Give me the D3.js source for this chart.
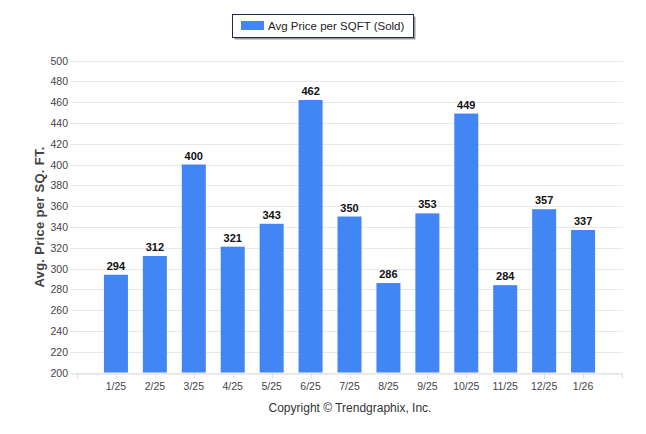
<!DOCTYPE html>
<html><head><meta charset="utf-8">
<script src="https://cdn.jsdelivr.net/npm/d3@7"></script>
<style>body{margin:0;background:#fff;} svg{display:block;}</style>
</head><body>
<svg id="c" width="646" height="434"></svg>
<script>
const categories = ["1/25","2/25","3/25","4/25","5/25","6/25","7/25","8/25","9/25","10/25","11/25","12/25","1/26"];
const values = [294,312,400,321,343,462,350,286,353,449,284,357,337];
const yTicks = [200,220,240,260,280,300,320,340,360,380,400,420,440,460,480,500];
const seriesName = "Avg Price per SQFT (Sold)";
const yTitle = "Avg. Price per SQ. FT.";
const credit = "Copyright \u00A9 Trendgraphix, Inc.";

(function () {
const svg = d3.select("#c");
const pLeft = 77, pRight = 622, pTop = 60.5, pBottom = 372.5;
const x = d3.scaleLinear().domain([0, categories.length + 1]).range([pLeft, pRight]);
const y = d3.scaleLinear().domain([200, 500]).range([pBottom, pTop]);
const font = "'Liberation Sans', Arial, sans-serif";

// gridlines
svg.append("g").selectAll("line").data(yTicks).join("line")
  .attr("x1", 70).attr("x2", pRight + 1)
  .attr("y1", d => Math.round(y(d)) + 0.5).attr("y2", d => Math.round(y(d)) + 0.5)
  .attr("stroke", "#e8e8e8").attr("stroke-width", 1);

// y axis labels
svg.append("g").selectAll("text").data(yTicks).join("text")
  .attr("x", 68).attr("y", d => y(d) + 4)
  .attr("text-anchor", "end").attr("font-family", font).attr("font-size", 10.5)
  .attr("fill", "#444").text(d => d);

// x axis baseline & ticks
svg.append("line").attr("x1", 72).attr("x2", pRight + 1).attr("y1", pBottom + 1.5).attr("y2", pBottom + 1.5)
  .attr("stroke", "#e0e0e0").attr("stroke-width", 1);
const tickIdx = d3.range(0, categories.length + 2);
svg.append("g").selectAll("line").data(tickIdx).join("line")
  .attr("x1", d => Math.round(x(d)) + 0.5).attr("x2", d => Math.round(x(d)) + 0.5)
  .attr("y1", pBottom + 1).attr("y2", pBottom + 6)
  .attr("stroke", "#e0e0e0");

// x labels
svg.append("g").selectAll("text").data(categories).join("text")
  .attr("x", (d, i) => x(i + 1)).attr("y", pBottom + 17)
  .attr("text-anchor", "middle").attr("font-family", font).attr("font-size", 10.5)
  .attr("fill", "#444").text(d => d);

// bars
const bw = 24;
svg.append("g").selectAll("rect").data(values).join("rect")
  .attr("x", (d, i) => x(i + 1) - bw / 2).attr("width", bw)
  .attr("y", d => y(d)).attr("height", d => pBottom - y(d))
  .attr("fill", "#4285f4");

// value labels
svg.append("g").selectAll("text").data(values).join("text")
  .attr("x", (d, i) => x(i + 1)).attr("y", d => y(d) - 5)
  .attr("text-anchor", "middle").attr("font-family", font).attr("font-size", 11)
  .attr("font-weight", "bold").attr("fill", "#111").text(d => d);

// y title
svg.append("text").attr("transform", "translate(44,217) rotate(-90)")
  .attr("text-anchor", "middle").attr("font-family", font).attr("font-size", 13)
  .attr("font-weight", "bold").attr("fill", "#444").attr("letter-spacing", 0.3).text(yTitle);

// legend
svg.append("rect").attr("x", 234.5).attr("y", 16.5).attr("width", 181).attr("height", 23).attr("fill", "#999");
svg.append("rect").attr("x", 232.5).attr("y", 14.5).attr("width", 181).attr("height", 23)
  .attr("fill", "#fff").attr("stroke", "#1f2a44").attr("stroke-width", 1);
svg.append("rect").attr("x", 241).attr("y", 21).attr("width", 23).attr("height", 9).attr("fill", "#4285f4");
svg.append("text").attr("x", 268).attr("y", 30).attr("font-family", font).attr("font-size", 11.5)
  .attr("fill", "#222").text(seriesName);

// credit
svg.append("text").attr("x", 350).attr("y", 412).attr("text-anchor", "middle")
  .attr("font-family", font).attr("font-size", 12).attr("fill", "#333").text(credit);
})();
</script>
</body></html>
